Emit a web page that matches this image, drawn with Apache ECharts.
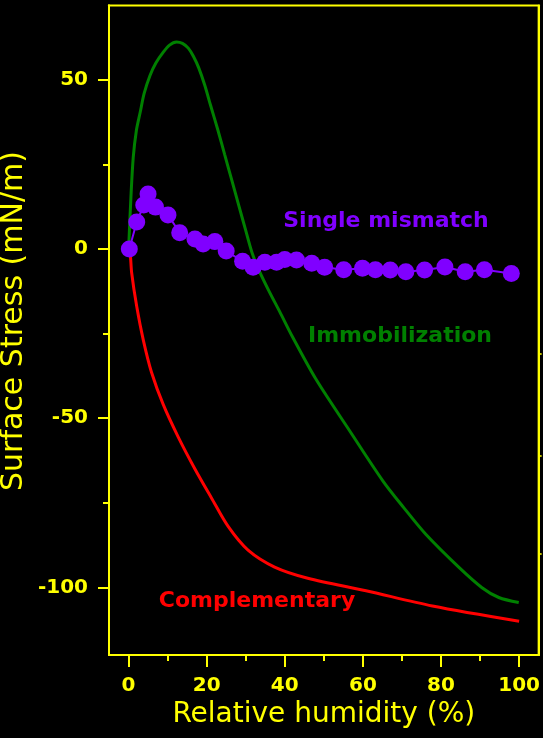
<!DOCTYPE html>
<html>
<head>
<meta charset="utf-8">
<script src="https://cdn.jsdelivr.net/npm/echarts@6/dist/echarts.min.js"></script>
<style>
  html, body { margin: 0; padding: 0; background: #000; }
  #chart { width: 543px; height: 738px; }
</style>
</head>
<body>
<div id="chart"></div>
<script>
// Immobilization curve: relative humidity (%) vs surface stress (mN/m)
const immobRH = [0, 0.6, 1.2, 2, 3, 4, 5.5, 7, 8.9, 10.5, 12.3, 13.8, 15.3, 16.6, 18, 19.5, 21, 22.8, 24.6, 26.4, 28.2, 30, 31.6, 33.5, 36, 38.7, 42, 48, 56.6, 65.1, 70.5, 76.1, 84.6, 90.5, 94.8, 99.9];
const immobStress = [-0.5, 15, 27, 35, 40.5, 46, 51.3, 55, 58.2, 60.3, 61.2, 60.8, 59.4, 57, 53.5, 48.5, 42.5, 35.5, 28, 20.5, 13, 5.5, -1, -6.5, -12.5, -18.5, -26, -38.5, -53.7, -68.5, -76.5, -84.3, -94.1, -100.1, -103, -104.5];

// Complementary curve
const compRH = [0, 0.4, 0.8, 2.1, 3.8, 5.9, 8.9, 12.7, 17, 21.2, 25.5, 30.6, 37.4, 45.9, 60.8, 77.8, 100];
const compStress = [0, -1, -7, -17, -27, -36.5, -46, -55.5, -65, -73.5, -82, -89, -94, -97.3, -101, -105.5, -110];

// Single mismatch measurements
const mismatchRH = [0.2, 2.1, 3.9, 5.0, 6.9, 10.1, 13.1, 17, 19.1, 22.1, 25, 29.2, 31.9, 34.9, 37.9, 40, 43, 46.9, 50.2, 55.1, 59.9, 63.2, 67, 71, 75.8, 81, 86.2, 91.1, 98];
const mismatchStress = [0, 8, 13, 16.3, 12.4, 10.1, 4.8, 3, 1.5, 2.2, -0.6, -3.6, -5.4, -3.9, -3.9, -3.1, -3.2, -4.2, -5.4, -6.1, -5.7, -6.1, -6.2, -6.7, -6.2, -5.3, -6.7, -6.1, -7.2];

// Axis ticks and labels
const xMajorTicks = [0, 20, 40, 60, 80, 100];
const xMinorTicks = [10, 30, 50, 70, 90];
const yMajorTicks = [-100, -50, 0, 50];
const yMinorTicks = [-75, -25, 25];
const yRightTicks = [-31, -61, -90];

const pair = (xs, ys) => xs.map((x, i) => [x, ys[i]]);

const YELLOW = '#ffff00';
const FONT = "'Comic Sans MS', 'DejaVu Sans', sans-serif";
const X_MIN = -5, X_MAX = 105, Y_MIN = -120, Y_MAX = 72;

const axisLineStyle = { show: true, onZero: false, lineStyle: { color: YELLOW, width: 2 } };

const chart = echarts.init(document.getElementById('chart'));
chart.setOption({
  backgroundColor: '#000',
  animation: false,
  grid: {
    left: 109, right: 2.5, top: 5.5, bottom: 83,
    show: true, borderColor: YELLOW, borderWidth: 2, backgroundColor: 'transparent'
  },
  xAxis: [
    {
      type: 'value', min: X_MIN, max: X_MAX, position: 'bottom',
      axisLine: axisLineStyle,
      axisTick: { show: true, customValues: xMajorTicks, length: 12, lineStyle: { color: YELLOW, width: 2 } },
      axisLabel: { customValues: xMajorTicks, color: YELLOW, fontSize: 20, fontWeight: 'bold', fontFamily: FONT, margin: 21 },
      splitLine: { show: false },
      name: 'Relative humidity (%)', nameLocation: 'middle', nameGap: 46,
      nameTextStyle: { color: YELLOW, fontSize: 28, fontFamily: FONT }
    },
    {
      type: 'value', min: X_MIN, max: X_MAX, position: 'bottom',
      axisLine: axisLineStyle,
      axisTick: { show: true, customValues: xMinorTicks, length: 6, lineStyle: { color: YELLOW, width: 2 } },
      axisLabel: { show: false },
      splitLine: { show: false }
    }
  ],
  yAxis: [
    {
      type: 'value', min: Y_MIN, max: Y_MAX, position: 'left',
      axisLine: axisLineStyle,
      axisTick: { show: true, customValues: yMajorTicks, length: 11, lineStyle: { color: YELLOW, width: 2 } },
      axisLabel: { customValues: yMajorTicks, color: YELLOW, fontSize: 20, fontWeight: 'bold', fontFamily: FONT, margin: 21 },
      splitLine: { show: false }
    },
    {
      type: 'value', min: Y_MIN, max: Y_MAX, position: 'left',
      axisLine: axisLineStyle,
      axisTick: { show: true, customValues: yMinorTicks, length: 6, lineStyle: { color: YELLOW, width: 2 } },
      axisLabel: { show: false },
      splitLine: { show: false }
    },
    {
      type: 'value', min: Y_MIN, max: Y_MAX, position: 'right',
      axisLine: axisLineStyle,
      axisTick: { show: true, customValues: yRightTicks, length: 3, lineStyle: { color: YELLOW, width: 1.5 } },
      axisLabel: { show: false },
      splitLine: { show: false }
    }
  ],
  graphic: [
    {
      type: 'text', x: 14, y: 321, rotation: Math.PI / 2,
      style: { text: 'Surface Stress (mN/m)', fill: YELLOW, font: "30px 'Comic Sans MS', 'DejaVu Sans', sans-serif", align: 'center', verticalAlign: 'middle' }
    },
    {
      type: 'text', x: 386, y: 221,
      style: { text: 'Single mismatch', fill: '#8000ff', font: "bold 22px 'Comic Sans MS', 'DejaVu Sans', sans-serif", align: 'center', verticalAlign: 'middle' }
    },
    {
      type: 'text', x: 400, y: 336,
      style: { text: 'Immobilization', fill: '#008000', font: "bold 22px 'Comic Sans MS', 'DejaVu Sans', sans-serif", align: 'center', verticalAlign: 'middle' }
    },
    {
      type: 'text', x: 257, y: 601,
      style: { text: 'Complementary', fill: '#ff0000', font: "bold 22px 'Comic Sans MS', 'DejaVu Sans', sans-serif", align: 'center', verticalAlign: 'middle' }
    }
  ],
  series: [
    {
      name: 'Immobilization', type: 'line', xAxisIndex: 0, yAxisIndex: 0,
      data: pair(immobRH, immobStress), smooth: 0.3, showSymbol: false,
      lineStyle: { color: '#008000', width: 3 }
    },
    {
      name: 'Complementary', type: 'line', xAxisIndex: 0, yAxisIndex: 0,
      data: pair(compRH, compStress), smooth: 0.3, showSymbol: false,
      lineStyle: { color: '#ff0000', width: 3 }
    },
    {
      name: 'Single mismatch', type: 'line', xAxisIndex: 0, yAxisIndex: 0,
      data: pair(mismatchRH, mismatchStress),
      symbol: 'circle', symbolSize: 17,
      itemStyle: { color: '#8000ff' },
      lineStyle: { color: '#8000ff', width: 2 }
    }
  ]
});
</script>
</body>
</html>
